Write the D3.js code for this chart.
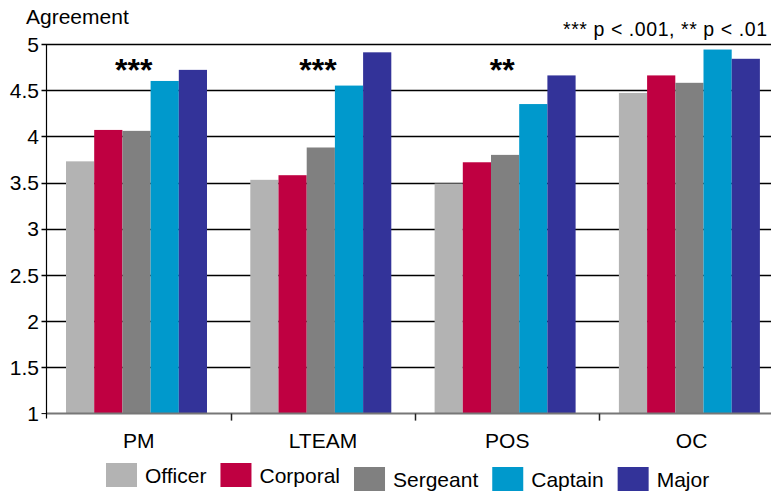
<!DOCTYPE html>
<html>
<head>
<meta charset="utf-8">
<script src="https://cdn.jsdelivr.net/npm/d3@7"></script>
<style>
  body { margin: 0; background: #fff; }
  text { font-family: "Liberation Sans", Arial, sans-serif; fill: #000; }
</style>
</head>
<body>
<div id="chart"></div>
<script>
const groups = ['PM', 'LTEAM', 'POS', 'OC'];
const ranks = ['Officer', 'Corporal', 'Sergeant', 'Captain', 'Major'];
const officer = [3.73, 3.53, 3.49, 4.47];
const corporal = [4.07, 3.58, 3.72, 4.66];
const sergeant = [4.06, 3.88, 3.80, 4.58];
const captain = [4.60, 4.55, 4.35, 4.94];
const major = [4.72, 4.91, 4.66, 4.84];
const significance = ['***', '***', '**', ''];
const yTicks = [1, 1.5, 2, 2.5, 3, 3.5, 4, 4.5, 5];
const colors = ['#b3b3b3', '#bf0041', '#808080', '#0099cc', '#333399'];

const series = [officer, corporal, sergeant, captain, major];
const data = groups.map((g, i) => ({
  group: g,
  sig: significance[i],
  values: ranks.map((r, j) => ({ rank: r, value: series[j][i] })),
}));

const width = 771;
const height = 493;
const plotLeft = 46.5;
const plotTop = 44;
const plotBottom = 413.6;

const svg = d3.select('#chart').append('svg')
  .attr('width', width)
  .attr('height', height);

const x0 = d3.scaleBand()
  .domain(groups)
  .range([plotLeft, plotLeft + 4 * 184.3])
  .padding(0);

const x1 = d3.scaleBand()
  .domain(ranks)
  .range([19.5, 160.5])
  .padding(0);

const y = d3.scaleLinear()
  .domain([1, 5])
  .range([plotBottom, plotTop]);

const color = d3.scaleOrdinal().domain(ranks).range(colors);

// gridlines
svg.append('g')
  .selectAll('line')
  .data(yTicks.filter((d) => d !== 1))
  .join('line')
  .attr('x1', plotLeft - 5)
  .attr('x2', width)
  .attr('y1', (d) => Math.round(y(d)) + 0.5)
  .attr('y2', (d) => Math.round(y(d)) + 0.5)
  .attr('stroke', '#000')
  .attr('stroke-width', 1.3);

// bars
svg.append('g')
  .selectAll('g')
  .data(data)
  .join('g')
  .attr('transform', (d) => `translate(${x0(d.group)},0)`)
  .selectAll('rect')
  .data((d) => d.values)
  .join('rect')
  .attr('x', (d) => x1(d.rank))
  .attr('width', x1.bandwidth())
  .attr('y', (d) => y(d.value))
  .attr('height', (d) => y(1) - y(d.value))
  .attr('fill', (d) => color(d.rank));

// x axis
svg.append('line')
  .attr('x1', plotLeft)
  .attr('x2', width)
  .attr('y1', plotBottom)
  .attr('y2', plotBottom)
  .attr('stroke', '#777')
  .attr('stroke-width', 2);

svg.append('g')
  .selectAll('line')
  .data(groups.slice(1))
  .join('line')
  .attr('x1', (d) => Math.round(x0(d)) + 0.5)
  .attr('x2', (d) => Math.round(x0(d)) + 0.5)
  .attr('y1', plotBottom)
  .attr('y2', plotBottom + 7)
  .attr('stroke', '#222')
  .attr('stroke-width', 1.5);

svg.append('g')
  .selectAll('text')
  .data(groups)
  .join('text')
  .attr('x', (d) => x0(d) + x0.bandwidth() / 2)
  .attr('y', 448)
  .attr('text-anchor', 'middle')
  .attr('font-size', '21px')
  .text((d) => d);

// y axis
svg.append('line')
  .attr('x1', plotLeft)
  .attr('x2', plotLeft)
  .attr('y1', plotTop)
  .attr('y2', plotBottom + 5)
  .attr('stroke', '#000')
  .attr('stroke-width', 1.2);

svg.append('g')
  .selectAll('line')
  .data([1])
  .join('line')
  .attr('x1', plotLeft - 5)
  .attr('x2', plotLeft)
  .attr('y1', (d) => y(d))
  .attr('y2', (d) => y(d))
  .attr('stroke', '#000');

svg.append('g')
  .selectAll('text')
  .data(yTicks)
  .join('text')
  .attr('x', 39)
  .attr('y', (d) => y(d))
  .attr('dy', '0.36em')
  .attr('text-anchor', 'end')
  .attr('font-size', '21px')
  .text((d) => d);

svg.append('text')
  .attr('x', 26)
  .attr('y', 24)
  .attr('font-size', '21px')
  .text('Agreement');

// significance stars
svg.append('g')
  .selectAll('text')
  .data(data)
  .join('text')
  .attr('x', (d) => x0(d.group) + x0.bandwidth() / 2 - 5)
  .attr('y', 81)
  .attr('text-anchor', 'middle')
  .attr('font-size', '32px')
  .attr('font-weight', 'bold')
  .text((d) => d.sig);

svg.append('text')
  .attr('x', 767)
  .attr('y', 36)
  .attr('text-anchor', 'end')
  .attr('font-size', '19.5px')
  .attr('textLength', 204)
  .attr('lengthAdjust', 'spacing')
  .text('*** p < .001, ** p < .01');

// legend
const legend = svg.append('g');
let lx = 106;
ranks.forEach((r, i) => {
  const dy = i < 2 ? 0 : 4;
  legend.append('rect')
    .attr('x', lx)
    .attr('y', 463 + dy)
    .attr('width', 31)
    .attr('height', 24)
    .attr('fill', color(r));
  const t = legend.append('text')
    .attr('x', lx + 39)
    .attr('y', 483 + dy)
    .attr('font-size', '21px')
    .text(r);
  lx += 39 + t.node().getComputedTextLength() + 14;
});
</script>
</body>
</html>
